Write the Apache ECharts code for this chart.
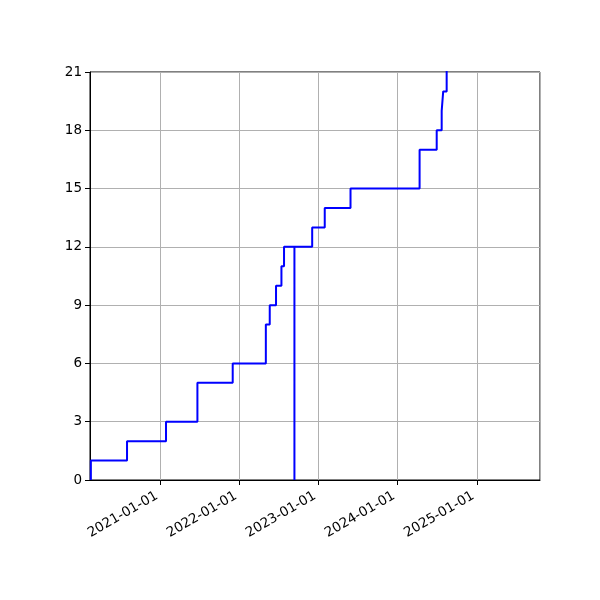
<!DOCTYPE html>
<html>
<head>
<meta charset="utf-8">
<script src="https://cdn.jsdelivr.net/npm/echarts@6/dist/echarts.min.js"></script>
<style>html,body{margin:0;padding:0;background:#fff;}#c{width:600px;height:600px;}</style>
</head>
<body>
<div id="c"></div>
<script>
// Step data: at each date the cumulative count becomes the given value
const dates = [
  '2020-02-15','2020-02-15','2020-07-31','2021-01-27','2021-06-21','2021-12-01',
  '2022-05-03','2022-05-21','2022-06-19','2022-07-14','2022-07-26',
  '2022-09-12','2022-09-12','2022-12-03','2023-01-30','2023-05-29',
  '2024-04-12','2024-06-30','2024-07-23','2024-07-30','2024-08-15'
];
const counts = [
  0, 1, 2, 3, 5, 6,
  8, 9, 10, 11, 12,
  0, 12, 13, 14, 15,
  17, 18, 19, 20, 23
];
const yTicks = [0, 3, 6, 9, 12, 15, 18, 21];
const xRange = ['2020-02-11', '2025-10-20'];

const chart = echarts.init(document.getElementById('c'), null, {renderer: 'canvas'});
const font = 'DejaVu Sans';
chart.setOption({
  animation: false,
  backgroundColor: '#ffffff',
  grid: {left: 90, right: 60, top: 72, bottom: 120, show: true, borderColor: '#000', borderWidth: 1, backgroundColor: 'transparent'},
  xAxis: {
    type: 'time',
    min: xRange[0],
    max: xRange[1],
    minInterval: 365 * 24 * 3600 * 1000,
    maxInterval: 366 * 24 * 3600 * 1000,
    axisLine: {show: true, lineStyle: {color: '#000', width: 1}},
    axisTick: {show: true, length: 5, lineStyle: {color: '#000'}},
    axisLabel: {formatter: '{yyyy}-{MM}-{dd}', rotate: 30, verticalAlign: 'bottom', color: '#000', fontFamily: font, fontSize: 13.5, margin: 21},
    splitLine: {show: true, lineStyle: {color: '#b0b0b0', width: 1}},
    minorTick: {show: false}
  },
  yAxis: {
    type: 'value',
    min: yTicks[0],
    max: yTicks[yTicks.length - 1],
    interval: 3,
    axisLine: {show: true, lineStyle: {color: '#000', width: 1}},
    axisTick: {show: true, length: 5, lineStyle: {color: '#000'}},
    axisLabel: {color: '#000', fontFamily: font, fontSize: 13.5, margin: 8},
    splitLine: {show: true, lineStyle: {color: '#b0b0b0', width: 1}}
  },
  series: [{
    type: 'line',
    step: 'end',
    data: dates.map((d, i) => [d, counts[i]]),
    showSymbol: false,
    symbol: 'none',
    clip: true,
    lineStyle: {color: '#0000ff', width: 2},
    itemStyle: {color: '#0000ff'}
  }]
});
</script>
</body>
</html>
